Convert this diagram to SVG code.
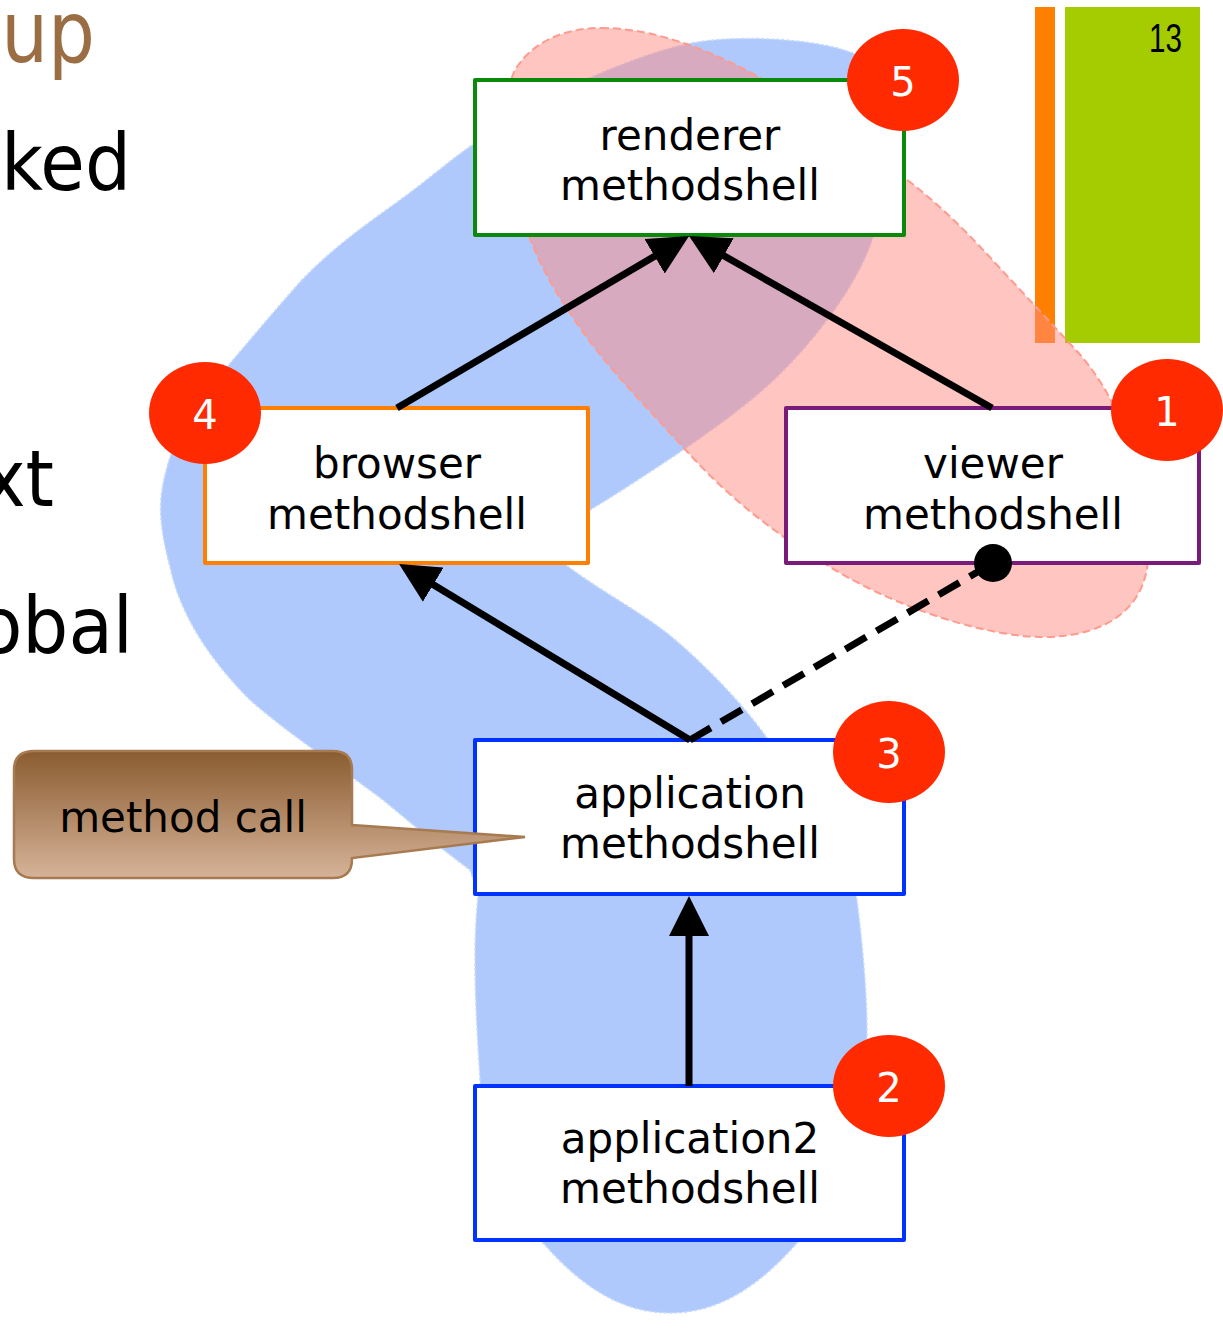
<svg xmlns="http://www.w3.org/2000/svg" width="1223" height="1343" viewBox="0 0 1223 1343">
  <defs>
    <linearGradient id="calloutFill" x1="0" y1="0" x2="0" y2="1">
      <stop offset="0" stop-color="#8a5c30"/>
      <stop offset="1" stop-color="#d6b399"/>
    </linearGradient>
    <marker id="head" viewBox="0 0 40 40" refX="10" refY="20" markerWidth="40" markerHeight="40" markerUnits="userSpaceOnUse" orient="auto">
      <path d="M0,0 L40,20 L0,40 Z" fill="#000"/>
    </marker>
    <style>
      .box { fill: #fff; stroke-width: 4; stroke-linejoin: round; }
      .label { font-family: "DejaVu Sans", Verdana, sans-serif; font-size: 42px; fill: #000; text-anchor: middle; }
      .badge { fill: #ff2a00; }
      .badgeText { font-family: "DejaVu Sans", Verdana, sans-serif; font-size: 40px; fill: #fff; text-anchor: middle; }
      .slide { font-family: "DejaVu Sans", Verdana, sans-serif; font-size: 78px; text-anchor: end; }
      .title { font-size: 86px; fill: #9b6d43; }
      .edge { stroke: #000; stroke-width: 7; fill: none; }
    </style>
  </defs>

  <rect width="1223" height="1343" fill="#fff"/>

  <!-- slide decoration bars and page number -->
  <rect x="1035" y="7" width="20" height="336" fill="#ff7f00"/>
  <rect x="1065" y="7" width="135" height="336" fill="#a5cc00"/>
  <text x="1149" y="52" font-family="Liberation Sans, sans-serif" font-size="40" textLength="33" lengthAdjust="spacingAndGlyphs" fill="#000">13</text>

  <!-- slide title and body text, clipped by the left edge -->
  <g transform="scale(0.86,1)">
    <text class="slide title" x="110.5" y="62">up</text>
  </g>
  <g transform="scale(0.93,1)">
    <text class="slide" x="140.9" y="190" fill="#000">ked</text>
    <text class="slide" x="58.1" y="506" fill="#000">xt</text>
    <text class="slide" x="143" y="653" fill="#000">obal</text>
  </g>

  <!-- blue call-chain region -->
  <path id="blueRegion" fill="#afc9fd" stroke="#c9dbfd" stroke-width="1.5" stroke-dasharray="3 2"
    d="M475,143 C520,110 565,88 608,70 C645,55 680,43 713,40 C760,36 820,40 853,53
       C880,65 890,100 888,140 C887,180 880,215 873,237 C860,280 820,335 777,377
       C750,403 715,428 683,450 C650,472 620,492 590,510 L560,560
       C590,585 630,605 667,633 C700,660 740,700 767,738 C800,790 850,850 857,900
       C862,940 867,990 867,1030 C867,1130 840,1200 797,1243 C760,1285 720,1313 670,1313
       C620,1313 580,1285 543,1243 C500,1200 482,1140 480,1080 C477,1030 475,1000 475,960
       C475,920 478,900 478,893 L470,870 C440,848 410,822 383,800 C330,760 290,735 250,700
       C210,660 180,615 170,567 C163,540 158,515 162,490 C170,440 195,400 227,367
       C250,340 275,310 300,282 C330,250 365,225 400,200 C425,182 450,160 475,143 Z"/>

  <!-- pink viewer/renderer region -->
  <path id="pinkRegion" fill="#ff8b81" fill-opacity="0.5" stroke="#ff9a8e" stroke-width="2" stroke-dasharray="8 4"
    d="M601,28 C660,28 720,55 766,81 C820,112 870,148 906,179 C940,205 970,235 997,265
       C1025,295 1050,322 1073,347 C1120,395 1150,480 1148,560 C1145,605 1110,637 1043,637
       C990,637 900,610 830,567 C780,537 730,500 683,447 C640,400 600,360 570,313
       C540,270 518,220 510,160 C505,120 505,90 515,70 C530,45 560,28 601,28 Z"/>

  <!-- nodes -->
  <g id="renderer">
    <rect class="box" x="475" y="80" width="429" height="155" stroke="#0a8a0a"/>
    <text class="label" x="690" y="150">renderer</text>
    <text class="label" x="690" y="200">methodshell</text>
    <ellipse class="badge" cx="903" cy="80" rx="56" ry="51"/>
    <text class="badgeText" x="903" y="96">5</text>
  </g>

  <g id="browser">
    <rect class="box" x="205" y="408" width="383" height="155" stroke="#ff7f00"/>
    <text class="label" x="397" y="478">browser</text>
    <text class="label" x="397" y="529">methodshell</text>
    <ellipse class="badge" cx="205" cy="413" rx="56" ry="51"/>
    <text class="badgeText" x="205" y="429">4</text>
  </g>

  <g id="viewer">
    <rect class="box" x="786" y="408" width="413" height="155" stroke="#7a1a7a"/>
    <text class="label" x="993" y="478">viewer</text>
    <text class="label" x="993" y="529">methodshell</text>
    <ellipse class="badge" cx="1167" cy="410" rx="56" ry="51"/>
    <text class="badgeText" x="1167" y="426">1</text>
  </g>

  <g id="application">
    <rect class="box" x="475" y="740" width="429" height="154" stroke="#0033ff"/>
    <text class="label" x="690" y="808">application</text>
    <text class="label" x="690" y="858">methodshell</text>
    <ellipse class="badge" cx="889" cy="752" rx="56" ry="51"/>
    <text class="badgeText" x="889" y="768">3</text>
  </g>

  <g id="application2">
    <rect class="box" x="475" y="1086" width="429" height="154" stroke="#0033ff"/>
    <text class="label" x="690" y="1153">application2</text>
    <text class="label" x="690" y="1203">methodshell</text>
    <ellipse class="badge" cx="889" cy="1086" rx="56" ry="51"/>
    <text class="badgeText" x="889" y="1102">2</text>
  </g>

  <!-- connectors, drawn over the box borders -->
  <g id="connectors">
    <line class="edge" x1="397" y1="408" x2="663.2" y2="251.2" marker-end="url(#head)"/>
    <line class="edge" x1="992" y1="408" x2="715.1" y2="250.8" marker-end="url(#head)"/>
    <line class="edge" x1="690" y1="740" x2="424.7" y2="579.5" marker-end="url(#head)"/>
    <line class="edge" x1="689" y1="1086" x2="689" y2="926" marker-end="url(#head)"/>
    <line class="edge" x1="690" y1="740" x2="993" y2="563" stroke-dasharray="24 12"/>
    <circle cx="993" cy="563" r="19" fill="#000"/>
  </g>

  <!-- callout -->
  <g id="callout">
    <path d="M34,751 L333,751 Q352,751 352,770 L352,825 L525,837 L352,858 L352,859 Q352,878 333,878 L34,878 Q14,878 14,859 L14,770 Q14,751 34,751 Z"
      fill="url(#calloutFill)" stroke="#a87a50" stroke-width="2.5"/>
    <text class="label" x="183" y="832">method call</text>
  </g>
</svg>
